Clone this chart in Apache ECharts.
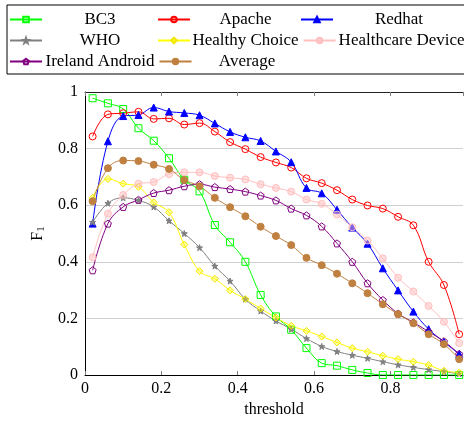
<!DOCTYPE html>
<html>
<head>
<meta charset="utf-8">
<script src="https://cdn.jsdelivr.net/npm/echarts@6/dist/echarts.min.js"></script>
<style>
  html, body { margin: 0; padding: 0; background: #fff; }
  #chart { width: 464px; height: 423px; }
</style>
</head>
<body>
<div id="chart"></div>
<script>
// thresholds on the x axis
const thresholds = [0.02, 0.06, 0.10, 0.14, 0.18, 0.22, 0.26, 0.30, 0.34, 0.38, 0.42, 0.46, 0.50,
  0.54, 0.58, 0.62, 0.66, 0.70, 0.74, 0.78, 0.82, 0.86, 0.90, 0.94, 0.98];

const bc3 = [0.978, 0.96, 0.94, 0.872, 0.828, 0.766, 0.69, 0.649, 0.53, 0.469, 0.40, 0.283, 0.207,
  0.16, 0.095, 0.042, 0.033, 0.018, 0.007, 0, 0, 0, 0, 0, 0];
const apache = [0.843, 0.921, 0.925, 0.93, 0.905, 0.907, 0.885, 0.89, 0.86, 0.823, 0.798, 0.77, 0.751,
  0.733, 0.695, 0.678, 0.653, 0.62, 0.599, 0.588, 0.559, 0.529, 0.40, 0.318, 0.144];
const redhat = [0.535, 0.826, 0.915, 0.919, 0.945, 0.931, 0.926, 0.918, 0.889, 0.859, 0.84, 0.827, 0.79,
  0.752, 0.661, 0.642, 0.584, 0.521, 0.464, 0.377, 0.299, 0.224, 0.162, 0.117, 0.074];
const who = [0.54, 0.607, 0.626, 0.617, 0.594, 0.545, 0.50, 0.45, 0.385, 0.332, 0.268, 0.226, 0.191,
  0.162, 0.129, 0.101, 0.083, 0.07, 0.059, 0.047, 0.036, 0.027, 0.019, 0.012, 0.004];
const healthyChoice = [0.626, 0.693, 0.676, 0.665, 0.61, 0.575, 0.461, 0.367, 0.34, 0.299, 0.268, 0.235, 0.203,
  0.174, 0.156, 0.136, 0.115, 0.095, 0.082, 0.068, 0.056, 0.047, 0.035, 0.015, 0.009];
const healthcareDevice = [0.416, 0.57, 0.636, 0.676, 0.682, 0.71, 0.716, 0.716, 0.703, 0.697, 0.691, 0.674, 0.661,
  0.648, 0.62, 0.605, 0.567, 0.522, 0.475, 0.412, 0.344, 0.295, 0.244, 0.188, 0.113];
const irelandAndroid = [0.37, 0.535, 0.594, 0.619, 0.643, 0.653, 0.667, 0.674, 0.664, 0.657, 0.648, 0.634, 0.617,
  0.588, 0.564, 0.525, 0.465, 0.40, 0.324, 0.265, 0.217, 0.186, 0.153, 0.119, 0.074];
const average = [0.614, 0.731, 0.758, 0.756, 0.743, 0.728, 0.689, 0.667, 0.626, 0.593, 0.561, 0.524, 0.491,
  0.459, 0.414, 0.388, 0.358, 0.324, 0.289, 0.25, 0.215, 0.183, 0.144, 0.109, 0.056];

const seriesNames = ['BC3', 'Apache', 'Redhat', 'WHO', 'Healthy Choice', 'Healthcare Device', 'Ireland Android', 'Average'];

const STAR = 'path://M0,-10L2.35,-3.24L9.51,-3.09L3.8,1.24L5.88,8.09L0,4L-5.88,8.09L-3.8,1.24L-9.51,-3.09L-2.35,-3.24Z';
const PENTAGON = 'path://M0,-10L9.51,-3.09L5.88,8.09L-5.88,8.09L-9.51,-3.09Z';
const FONT = 'Liberation Serif';

var chart = echarts.init(document.getElementById('chart'));

const makeLine = (name, values, lineColor, symbol, fill, border, size) => ({
  name: name,
  type: 'line',
  data: values.map((v, i) => [thresholds[i], v]),
  smooth: 0.4,
  symbol: symbol,
  symbolSize: size,
  showSymbol: true,
  clip: true,
  lineStyle: { color: lineColor, width: 1 },
  itemStyle: { color: fill, borderColor: border, borderWidth: 1 },
  emphasis: { disabled: true }
});

const clear = 'rgba(255,255,255,0)';
const series = [
  makeLine(seriesNames[0], bc3, '#00ff00', 'rect', clear, '#00ff00', 7),
  makeLine(seriesNames[1], apache, '#ff0000', 'circle', clear, '#ff0000', 7),
  makeLine(seriesNames[2], redhat, '#0000ff', 'triangle', '#0000ff', '#0000ff', 7),
  makeLine(seriesNames[3], who, '#808080', STAR, '#808080', '#808080', 6),
  makeLine(seriesNames[4], healthyChoice, '#ffff00', 'diamond', 'rgba(255,255,0,0.35)', '#f2e600', 7),
  makeLine(seriesNames[5], healthcareDevice, '#ffbfbf', 'circle', 'rgba(255,191,191,0.5)', '#ffbfbf', 7),
  makeLine(seriesNames[6], irelandAndroid, '#800080', PENTAGON, clear, '#800080', 7),
  makeLine(seriesNames[7], average, '#bf8040', 'circle', '#bf8040', '#bf8040', 7)
];

// legend columns have their own widths, text centered in each cell
const colOf = name => seriesNames.indexOf(name) % 3;

option = {
  backgroundColor: '#fff',
  animation: false,
  legend: {
    data: seriesNames,
    left: 7,
    top: 5,
    width: 500,
    padding: [6, 8, 4, 2],
    itemGap: 4,
    itemWidth: 32,
    itemHeight: 7,
    borderColor: '#000',
    borderWidth: 1,
    selectedMode: false,
    formatter: name => `{c${colOf(name)}|${name}}`,
    textStyle: {
      color: '#000',
      fontFamily: FONT,
      fontSize: 17,
      rich: {
        c0: { width: 106, align: 'center', fontFamily: FONT, fontSize: 17, lineHeight: 17, color: '#000' },
        c1: { width: 101, align: 'center', fontFamily: FONT, fontSize: 17, lineHeight: 17, color: '#000' },
        c2: { width: 122, align: 'center', fontFamily: FONT, fontSize: 17, lineHeight: 17, color: '#000' }
      }
    }
  },
  grid: { left: 85, right: 1, top: 92, bottom: 47 },
  xAxis: [{
    type: 'value',
    min: 0,
    max: 0.99,
    interval: 0.2,
    name: 'threshold',
    nameLocation: 'middle',
    nameGap: 27,
    nameTextStyle: { fontFamily: FONT, fontSize: 16, color: '#000' },
    axisLine: { show: true, onZero: false, lineStyle: { color: '#000', width: 1 } },
    axisTick: { show: true, inside: true, length: 4, lineStyle: { color: '#808080' } },
    axisLabel: { fontFamily: FONT, fontSize: 16, color: '#000', margin: 6, showMaxLabel: false },
    splitLine: { show: false }
  }, {
    type: 'value',
    position: 'top',
    min: 0,
    max: 0.99,
    interval: 0.2,
    axisLine: { show: true, onZero: false, lineStyle: { color: '#222', width: 1 } },
    axisTick: { show: true, inside: true, length: 4, lineStyle: { color: '#808080' } },
    axisLabel: { show: false },
    splitLine: { show: false }
  }],
  yAxis: {
    type: 'value',
    min: 0,
    max: 1,
    interval: 0.2,
    name: '{a|F}{b|1}',
    nameLocation: 'middle',
    nameGap: 38,
    nameTextStyle: {
      rich: {
        a: { fontFamily: FONT, fontSize: 16, color: '#000', lineHeight: 18 },
        b: { fontFamily: FONT, fontSize: 11, color: '#000', padding: [7, 0, 0, 0] }
      }
    },
    axisLine: { show: true, lineStyle: { color: '#000', width: 1 } },
    axisTick: { show: false },
    axisLabel: { fontFamily: FONT, fontSize: 16, color: '#000', margin: 7 },
    splitLine: { show: true, lineStyle: { color: '#d0d0d0', width: 1 } }
  },
  series: series
};

chart.setOption(option);
</script>
</body>
</html>
